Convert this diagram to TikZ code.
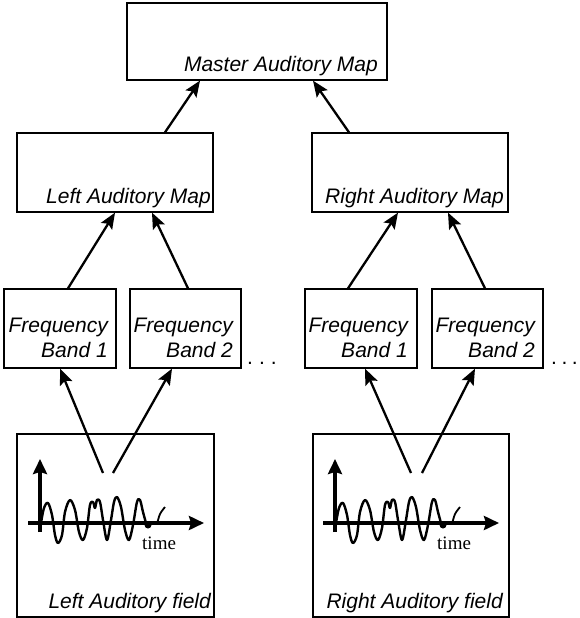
\documentclass[tikz,border=0pt]{standalone}
\usepackage{fontspec}
\setsansfont{Liberation Sans}
\newfontfamily\timefont{Liberation Serif}
\usetikzlibrary{arrows.meta,positioning,calc}

\begin{document}
\begin{tikzpicture}[x=1pt, y=-1pt,
  box/.style={rectangle, draw, line width=1.3pt, inner sep=0pt},
  lbl/.style={inner sep=0pt, font=\sffamily\itshape\fontsize{21}{25}\selectfont},
  dotlbl/.style={inner sep=0pt, font=\sffamily\fontsize{21}{25}\selectfont},
  arrow/.style={-{Stealth[length=16pt,width=13pt,inset=3pt]}, line width=2.3pt},
  axis/.style={-{Stealth[length=15pt,width=14pt,inset=2pt]}, line width=4.2pt},
  wave/.style={line width=2.4pt, line join=round}]
  \useasboundingbox (0,0) rectangle (580,618);

  % maps
  \node[box, minimum width=260pt, minimum height=77pt] (master) at (257,41.5) {};
  \node[box, minimum width=196pt, minimum height=79pt] (lmap) at (115,172.5) {};
  \node[box, minimum width=196pt, minimum height=79pt] (rmap) at (410,172.5) {};
  \node[lbl, anchor=base east] (mastertxt) at (378,71) {Master Auditory Map};
  \node[lbl, anchor=base east] (lmaptxt) at (211,203) {Left Auditory Map};
  \node[lbl, anchor=base east] (rmaptxt) at (504,203) {Right Auditory Map};

  % frequency bands
  \node[box, minimum width=112pt, minimum height=79pt] (lband1) at (60,328.5) {};
  \node[box, minimum width=111pt, minimum height=79pt] (lband2) at (185.5,328.5) {};
  \node[box, minimum width=112pt, minimum height=79pt] (rband1) at (361,328.5) {};
  \node[box, minimum width=111pt, minimum height=79pt] (rband2) at (487.5,328.5) {};
  \node[lbl, align=right, anchor=north east] (lband1txt) at (108,318) {Frequency\\Band 1};
  \node[lbl, align=right, anchor=north east] (lband2txt) at (233,318) {Frequency\\Band 2};
  \node[lbl, align=right, anchor=north east] (rband1txt) at (408,318) {Frequency\\Band 1};
  \node[lbl, align=right, anchor=north east] (rband2txt) at (535,318) {Frequency\\Band 2};
  \node[dotlbl, anchor=base west] (ldots) at (247,364) {.\hspace{6pt}.\hspace{6pt}.};
  \node[dotlbl, anchor=base west] (rdots) at (551,364) {.\hspace{4.5pt}.\hspace{4.5pt}.};

  % auditory fields
  \node[box, minimum width=197pt, minimum height=183pt] (lfield) at (115.5,525.5) {};
  \node[box, minimum width=196pt, minimum height=183pt] (rfield) at (411,525.5) {};
  \node[lbl, anchor=base east] (lfieldtxt) at (211,608) {Left Auditory field};
  \node[lbl, anchor=base east] (rfieldtxt) at (503,608) {Right Auditory field};

  \foreach \side/\dx in {l/0, r/295}{
    \begin{scope}[xshift=\dx pt]
      \draw[axis] (40,532) -- (40,459);
      \draw[axis] (28,523) -- (204,523);
      \draw[wave] plot[smooth, tension=0.55] coordinates {
        (41,523) (44,508) (48,503) (52,515) (55,535) (58,543) (62,535)
        (65,512) (70,500) (75,510) (79,532) (83,540) (87,528) (90,505)
        (93,502) (95,508) (97,500) (100,502) (103,520) (107,540) (111,520)
        (114,502) (117,497) (121,507) (125,530) (129,540) (133,525)
        (137,502) (140,500) (143,512) (146,523)};
      \fill (148,525) circle (3.5pt);
      \draw[wave, line width=1.8pt] plot[smooth] coordinates {(157,524) (160,514) (165,507)};
      \node[inner sep=0pt, anchor=base west, font=\timefont\fontsize{19}{20}\selectfont]
        (\side time) at (142,549) {time};
    \end{scope}
  }
  \coordinate (lsrc1) at (103,473);
  \coordinate (lsrc2) at (113,473);
  \coordinate (rsrc1) at (411,473);
  \coordinate (rsrc2) at (422,473);

  % connections
  \draw[arrow] ([xshift=50pt]lmap.north) -- ([xshift=-57pt]master.south);
  \draw[arrow] ([xshift=-61pt]rmap.north) -- ([xshift=56pt]master.south);
  \draw[arrow] ([xshift=8pt]lband1.north) -- (lmap.south);
  \draw[arrow] ([xshift=2.5pt]lband2.north) -- ([xshift=37pt]lmap.south);
  \draw[arrow] ([xshift=-13pt]rband1.north) -- ([xshift=-12pt]rmap.south);
  \draw[arrow] ([xshift=-2.5pt]rband2.north) -- ([xshift=38pt]rmap.south);
  \draw[arrow] (lsrc1) -- (lband1.south);
  \draw[arrow] (lsrc2) -- ([xshift=-13.5pt]lband2.south);
  \draw[arrow] (rsrc1) -- ([xshift=4pt]rband1.south);
  \draw[arrow] (rsrc2) -- ([xshift=-12.5pt]rband2.south);
\end{tikzpicture}
\end{document}
